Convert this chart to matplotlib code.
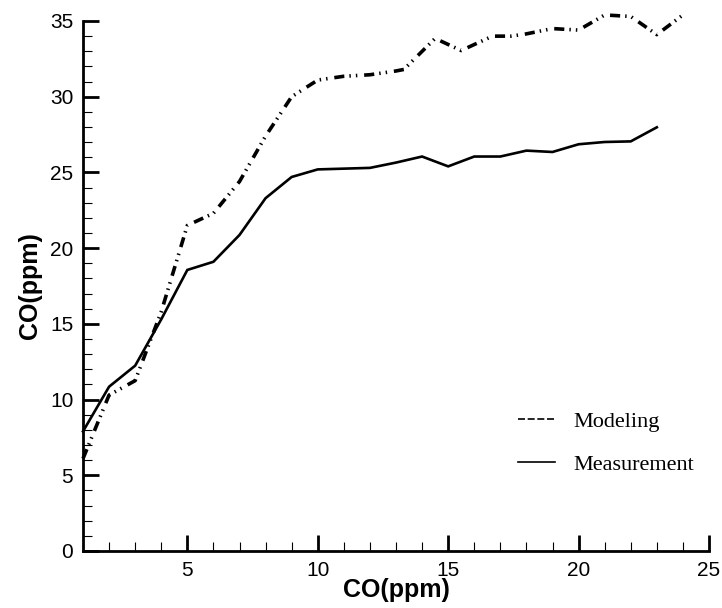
import matplotlib
matplotlib.use("Agg")
import matplotlib.pyplot as plt
from matplotlib.lines import Line2D
from matplotlib.ticker import MultipleLocator

# ---- data ----
meas_x = [1, 2, 3, 4, 5, 6, 7, 8, 9, 10, 11, 12, 13, 14, 15, 16, 17, 18, 19, 20, 21, 22, 23]
meas_y = [7.9, 10.85, 12.24, 15.3, 18.56, 19.1, 20.87, 23.3, 24.7, 25.2, 25.25, 25.3, 25.65,
          26.05, 25.4, 26.05, 26.05, 26.44, 26.35, 26.86, 27.01, 27.05, 27.98]

model_x = [1, 2, 3, 4, 5, 6, 7, 8, 9, 10, 11, 12, 13, 13.3, 14.5, 15.5, 16.7, 17.4,
           18, 19, 20, 21, 22, 23, 24]
model_y = [6.1, 10.3, 11.25, 15.8, 21.5, 22.3, 24.4, 27.4, 30.0, 31.1, 31.35, 31.45, 31.7,
           31.8, 33.85, 33.05, 34.0, 34.0, 34.15, 34.5, 34.4, 35.4, 35.3, 34.1, 35.4]

series_labels = ["Modeling", "Measurement"]
x_label = "CO(ppm)"
y_label = "CO(ppm)"

fig = plt.figure(figsize=(7.22, 6.08), dpi=100)
ax = fig.add_axes([83 / 722, 57 / 608, (709 - 83) / 722, (587 - 57) / 608])

ax.plot(meas_x, meas_y, color="black", lw=1.9, solid_joinstyle="miter", clip_on=False)
ax.plot(model_x, model_y, color="black", lw=2.6,
        dashes=(2.8, 1.4, 0.4, 1.4, 0.4, 1.9), dash_capstyle="butt", clip_on=False)

ax.set_xlim(1, 25)
ax.set_ylim(0, 35)
ax.xaxis.set_major_locator(MultipleLocator(5))
ax.xaxis.set_minor_locator(MultipleLocator(1))
ax.yaxis.set_major_locator(MultipleLocator(5))
ax.yaxis.set_minor_locator(MultipleLocator(1))

for s in ["top", "right"]:
    ax.spines[s].set_visible(False)
for s in ["left", "bottom"]:
    ax.spines[s].set_linewidth(2.0)

ax.tick_params(which="major", direction="in", length=11.5, width=2.0,
               labelsize=15, pad=7)
ax.tick_params(which="minor", direction="in", length=6.5, width=0.8)
for lab in ax.get_xticklabels() + ax.get_yticklabels():
    lab.set_family(["Liberation Sans", "DejaVu Sans"])

ax.set_xlabel(x_label, fontsize=18, fontweight="bold",
              family=["Liberation Sans", "DejaVu Sans"], labelpad=-1)
ax.set_ylabel(y_label, fontsize=18, fontweight="bold",
              family=["Liberation Sans", "DejaVu Sans"], labelpad=6)

handles = [
    Line2D([], [], color="black", lw=1.2, ls=(0, (4.2, 1.6))),
    Line2D([], [], color="black", lw=1.2),
]
leg = ax.legend(handles, series_labels, loc="center left",
                bbox_to_anchor=(518 / 722, (608 - 443) / 608),
                bbox_transform=fig.transFigure, frameon=False,
                prop={"family": ["Liberation Serif", "DejaVu Serif"], "size": 16},
                handlelength=1.67, handletextpad=0.8, labelspacing=1.0,
                borderpad=0, borderaxespad=0)

fig.savefig("out.png", dpi=100)
